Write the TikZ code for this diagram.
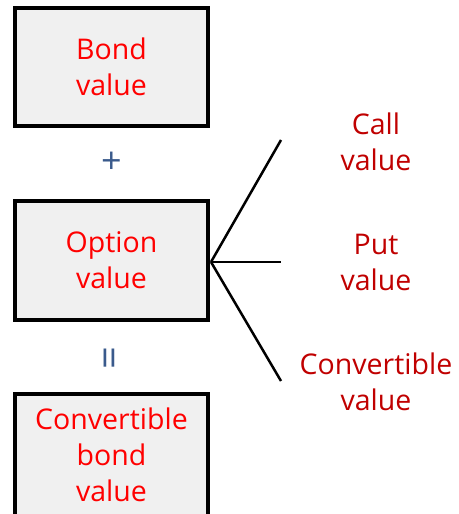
\documentclass[tikz,border=0pt]{standalone}
\usepackage{fontspec}
\setmainfont{Open Sans}
\definecolor{boxred}{HTML}{FF0000}
\definecolor{darkred}{HTML}{C00000}
\definecolor{opblue}{HTML}{3A5A8C}
\definecolor{boxfill}{HTML}{F0F0F0}
\begin{document}
\begin{tikzpicture}[x=1pt,y=1pt,
  valbox/.style={draw=black, line width=4pt, fill=boxfill, minimum width=193pt, inner sep=0pt,
    text=boxred, align=center, font=\fontsize{28.5}{36}\selectfont},
  sidelabel/.style={text=darkred, align=center, inner sep=0pt, font=\fontsize{28.5}{36}\selectfont},
  opsign/.style={text=opblue, inner sep=0pt, font=\fontsize{36}{40}\selectfont},
  branch/.style={line width=2.5pt, black}]
\useasboundingbox (0,0) rectangle (458,-514);
\node[valbox, minimum height=118pt] (bond) at (111.5,-67) {Bond\\value};
\node[valbox, minimum height=119pt] (option) at (111.5,-260.5) {Option\\value};
\node[valbox, minimum height=122pt] (cbond) at (111.5,-455) {Convertible\\bond\\value};
\node[opsign] (plus) at (111.5,-163) {+};
\node[opsign, rotate=90, font=\fontsize{40}{44}\selectfont] (eq) at (114,-358) {=};
\node[sidelabel] (call) at (376,-142) {Call\\value};
\node[sidelabel] (put) at (376,-262) {Put\\value};
\node[sidelabel] (conv) at (376,-382) {Convertible\\value};
\coordinate (hub) at (211,-262);
\coordinate (endcall) at (281,-140);
\coordinate (endput) at (281,-262);
\coordinate (endconv) at (281,-381);
\draw[branch] (hub) -- (endcall);
\draw[branch] (hub) -- (endput);
\draw[branch] (hub) -- (endconv);
\end{tikzpicture}
\end{document}
